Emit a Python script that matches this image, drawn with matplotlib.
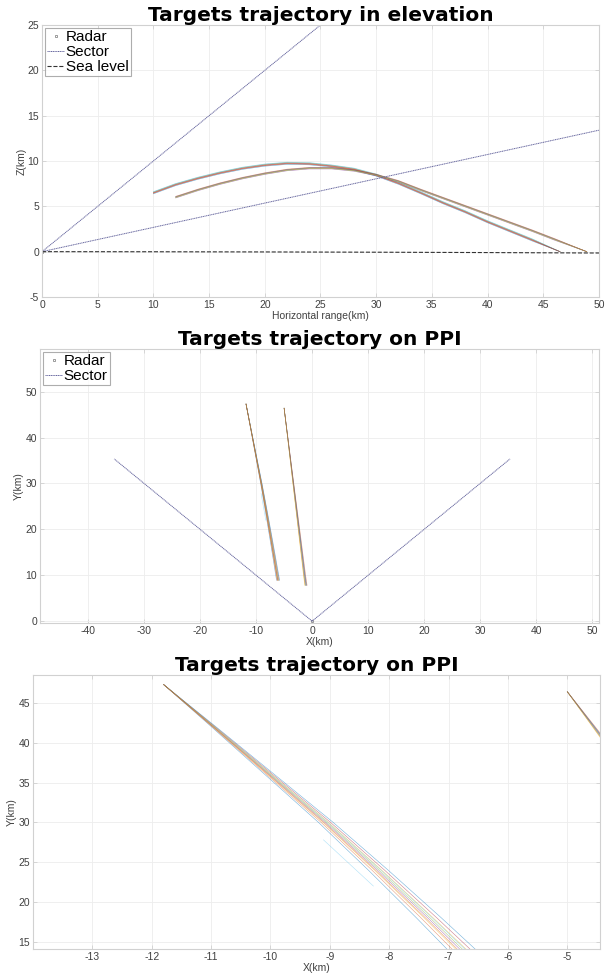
import numpy as np
import matplotlib
matplotlib.use("Agg")
import matplotlib.pyplot as plt

plt.rcParams['font.family'] = ['Liberation Sans', 'DejaVu Sans']
plt.rcParams['axes.unicode_minus'] = False

# MATLAB default colour order
track_colors = ['#0072BD', '#D95319', '#EDB120', '#7E2F8E', '#77AC30', '#4DBEEE', '#A2142F']

# sector / radar
sector_el_deg = [15, 45]
sector_el_range = 55.0
sector_az_deg = [-45, 45]
sector_az_range = 50.0

# sea level (slight earth curvature)
sea_x = [0, 10, 20, 30, 40, 50]
sea_z = [0.0, -0.01, -0.03, -0.06, -0.10, -0.15]

# elevation view, two groups of targets
elev_a_x = [10, 12, 14, 16, 18, 20, 22, 24, 26, 28, 30, 32, 34, 36, 38, 40, 42, 44, 46.5]
elev_a_z = [6.5, 7.4, 8.1, 8.7, 9.2, 9.55, 9.75, 9.7, 9.45, 9.1, 8.45, 7.55, 6.5, 5.4, 4.4, 3.3, 2.3, 1.3, 0.0]
elev_b_x = [12, 14, 16, 18, 20, 22, 24, 26, 28, 30, 32, 34, 36, 38, 40, 42, 44, 46, 48.9]
elev_b_z = [6.0, 6.8, 7.5, 8.1, 8.6, 9.0, 9.2, 9.2, 8.95, 8.45, 7.75, 6.8, 5.9, 5.0, 4.1, 3.2, 2.3, 1.35, 0.0]
elev_a_offsets = [-0.12, -0.06, 0.0, 0.04, 0.08, 0.12, -0.03]
elev_b_offsets = [-0.08, -0.03, 0.0, 0.03, 0.06, 0.1, -0.01]

# PPI view, two groups of targets
ppi_l_y = [47.3, 42, 36, 30, 24, 18, 14, 8.9]
ppi_l_x = [-11.8, -10.96, -10.02, -9.08, -8.2, -7.35, -6.8, -6.1]
ppi_l_spread = [-0.25, -0.15, -0.08, 0.0, 0.05, 0.1, 0.2, 0.3, -0.05, 0.12]
ppi_r_y = [46.4, 40, 30, 20, 10, 7.8]
ppi_r_x = [-5.0, -4.35, -3.35, -2.35, -1.35, -1.1]
ppi_r_spread = [-0.2, -0.1, -0.04, 0.0, 0.06, 0.12, 0.2, -0.15]
stray_y = [27.8, 22.0]
stray_dx = -0.35

grid_c = (0.93, 0.93, 0.93)
box_c = (0.82, 0.82, 0.82)
txt_c = (0.25, 0.25, 0.25)
sector_c = (0.4, 0.4, 0.62)
sector_ls = (0, (1.2, 0.6))
title_font = dict(fontsize=14.5, fontweight='bold', family=['DejaVu Sans'])


def style_axes(ax):
    ax.grid(True, color=grid_c, lw=0.6)
    ax.set_axisbelow(True)
    for s in ax.spines.values():
        s.set_color(box_c)
        s.set_linewidth(0.8)
    ax.tick_params(direction='in', length=3, width=0.6, color=box_c,
                   labelsize=7.5, labelcolor=txt_c, pad=2, top=True, right=True,
                   labeltop=False, labelright=False)


def add_legend(ax, handles, labels):
    leg = ax.legend(handles, labels, loc='upper left', fontsize=11,
                    frameon=True, fancybox=False, handlelength=1.1,
                    handletextpad=0.1, borderpad=0.15, labelspacing=0.05,
                    borderaxespad=0.2)
    leg.get_frame().set_edgecolor((0.6, 0.6, 0.6))
    leg.get_frame().set_linewidth(0.8)


fig = plt.figure(figsize=(6.07, 9.76), dpi=100)
ax1 = fig.add_axes([0.0692, 0.6957, 0.9176, 0.2787])
ax2 = fig.add_axes([0.0659, 0.3617, 0.9210, 0.2807])
ax3 = fig.add_axes([0.0544, 0.0277, 0.9340, 0.2807])

# ---- elevation
ea_x = np.array(elev_a_x)
ea_z = np.array(elev_a_z)
eb_x = np.array(elev_b_x)
eb_z = np.array(elev_b_z)
for i, off in enumerate(elev_a_offsets):
    ax1.plot(ea_x, ea_z + off * (ea_z > 0), color=track_colors[i % 7], lw=0.4, alpha=0.6)
for i, off in enumerate(elev_b_offsets):
    ax1.plot(eb_x, eb_z + off * (eb_z > 0), color=track_colors[(i + 3) % 7], lw=0.4, alpha=0.6)

h_radar, = ax1.plot([0], [0], 's', ms=2, mfc='none', mec=(0.55, 0.55, 0.55), mew=0.6)
for el in sector_el_deg:
    r = np.radians(el)
    h_sector, = ax1.plot([0, sector_el_range * np.cos(r)], [0, sector_el_range * np.sin(r)],
                         ls=sector_ls, color=sector_c, lw=0.7)
h_sea, = ax1.plot(sea_x, sea_z, '--', color=(0.2, 0.2, 0.2), lw=0.8)
ax1.set_xlim(0, 50)
ax1.set_ylim(-5, 25)
ax1.set_xticks(np.arange(0, 51, 5))
ax1.set_yticks(np.arange(-5, 26, 5))
style_axes(ax1)
ax1.set_title('Targets trajectory in elevation', pad=3, **title_font)
ax1.set_xlabel('Horizontal range(km)', fontsize=7.5, color=txt_c, labelpad=1)
ax1.set_ylabel('Z(km)', fontsize=7.5, color=txt_c, labelpad=1)
add_legend(ax1, [h_radar, h_sector, h_sea], ['Radar', 'Sector', 'Sea level'])


# ---- PPI, full and zoomed
def draw_ppi(ax, with_legend):
    lx = np.array(ppi_l_x)
    ly = np.array(ppi_l_y)
    rx = np.array(ppi_r_x)
    ry = np.array(ppi_r_y)
    for i, sp in enumerate(ppi_l_spread):
        ax.plot(lx + sp * (ly[0] - ly) / (ly[0] - ly[-1]), ly, color=track_colors[i % 7], lw=0.4, alpha=0.55)
    for i, sp in enumerate(ppi_r_spread):
        ax.plot(rx + sp * (ry[0] - ry) / (ry[0] - ry[-1]), ry, color=track_colors[(i + 2) % 7], lw=0.4, alpha=0.55)
    sy = np.array(stray_y)
    ax.plot(np.interp(sy, ly[::-1], lx[::-1]) + stray_dx, sy, color=track_colors[5], lw=0.4, alpha=0.45)
    hr, = ax.plot([0], [0], 's', ms=2, mfc='none', mec=(0.55, 0.55, 0.55), mew=0.6)
    for az in sector_az_deg:
        a = np.radians(az)
        hs, = ax.plot([0, sector_az_range * np.sin(a)], [0, sector_az_range * np.cos(a)],
                      ls=sector_ls, color=sector_c, lw=0.7)
    style_axes(ax)
    ax.set_title('Targets trajectory on PPI', pad=3, **title_font)
    ax.set_xlabel('X(km)', fontsize=7.5, color=txt_c, labelpad=1)
    ax.set_ylabel('Y(km)', fontsize=7.5, color=txt_c, labelpad=1)
    if with_legend:
        add_legend(ax, [hr, hs], ['Radar', 'Sector'])


draw_ppi(ax2, True)
ax2.set_xlim(-48.6, 51.25)
ax2.set_ylim(-0.4, 59.3)
ax2.set_xticks(np.arange(-40, 51, 10))
ax2.set_yticks(np.arange(0, 51, 10))

draw_ppi(ax3, False)
ax3.set_xlim(-14.0, -4.45)
ax3.set_ylim(14.1, 48.5)
ax3.set_xticks(np.arange(-13, -4, 1))
ax3.set_yticks(np.arange(15, 46, 5))

fig.savefig('out.png', dpi=100)
